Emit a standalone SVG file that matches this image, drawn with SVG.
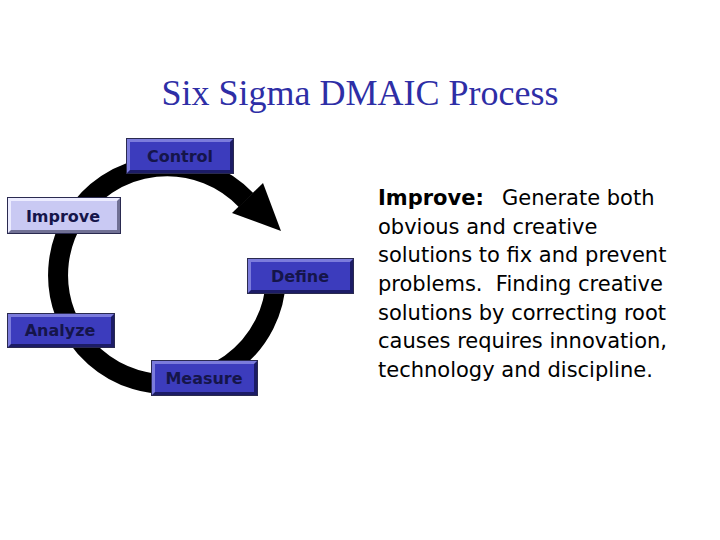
<svg xmlns="http://www.w3.org/2000/svg" width="720" height="540" viewBox="0 0 720 540">
  <style>
    .title { font-family: "Liberation Serif", "Times New Roman", serif; font-size: 36px; fill: #2e2ea6; }
    .lbl { font-family: "DejaVu Sans", Verdana, sans-serif; font-size: 16px; font-weight: bold; fill: #15154a; text-anchor: middle; }
    .body { font-family: "DejaVu Sans", Verdana, sans-serif; font-size: 21px; fill: #000; }
    .dark { fill: #1c1c66; }
    .light { fill: #7b7bdc; }
    .main { fill: #3c3cbd; }
    .edge { fill: none; stroke: #2a2a50; stroke-width: 1; }
    .ldark { fill: #707094; }
    .llight { fill: #ececff; }
    .lmain { fill: #c9c9f3; }
  </style>
  <rect width="720" height="540" fill="#ffffff"/>
  <text class="title" x="360" y="105" text-anchor="middle">Six Sigma DMAIC Process</text>

  <g id="connectors">
    <path d="M 276 279 A 109 109 0 1 1 246 200" fill="none" stroke="#000" stroke-width="20"/>
    <polygon points="263,183 232,213 281,231" fill="#000"/>
  </g>

  <g id="control" transform="translate(126,138)">
    <rect class="dark" x="0" y="0" width="108" height="36"/>
    <polygon class="light" points="0,0 108,0 104,4 4,4 4,32 0,36"/>
    <rect class="main" x="4" y="4" width="100" height="28"/>
    <rect class="edge" x="0.5" y="0.5" width="107" height="35"/>
    <text class="lbl" x="54" y="24">Control</text>
  </g>

  <g id="improve" transform="translate(7,197)">
    <rect class="ldark" x="0" y="0" width="114" height="37"/>
    <polygon class="llight" points="0,0 114,0 110,4 4,4 4,33 0,37"/>
    <rect class="lmain" x="4" y="4" width="106" height="29"/>
    <rect class="edge" x="0.5" y="0.5" width="113" height="36"/>
    <text class="lbl" x="56" y="25">Improve</text>
  </g>

  <g id="define" transform="translate(247,258)">
    <rect class="dark" x="0" y="0" width="107" height="36"/>
    <polygon class="light" points="0,0 107,0 103,4 4,4 4,32 0,36"/>
    <rect class="main" x="4" y="4" width="99" height="28"/>
    <rect class="edge" x="0.5" y="0.5" width="106" height="35"/>
    <text class="lbl" x="53" y="24">Define</text>
  </g>

  <g id="analyze" transform="translate(7,313)">
    <rect class="dark" x="0" y="0" width="108" height="35"/>
    <polygon class="light" points="0,0 108,0 104,4 4,4 4,31 0,35"/>
    <rect class="main" x="4" y="4" width="100" height="27"/>
    <rect class="edge" x="0.5" y="0.5" width="107" height="34"/>
    <text class="lbl" x="53" y="23">Analyze</text>
  </g>

  <g id="measure" transform="translate(151,360)">
    <rect class="dark" x="0" y="0" width="107" height="36"/>
    <polygon class="light" points="0,0 107,0 103,4 4,4 4,32 0,36"/>
    <rect class="main" x="4" y="4" width="99" height="28"/>
    <rect class="edge" x="0.5" y="0.5" width="106" height="35"/>
    <text class="lbl" x="53" y="24">Measure</text>
  </g>

  <g id="description">
    <text class="body" x="378" y="205"><tspan font-weight="bold">Improve:</tspan><tspan x="502">Generate both</tspan></text>
    <text class="body" x="378" y="234">obvious and creative</text>
    <text class="body" x="378" y="262">solutions to fix and prevent</text>
    <text class="body" x="378" y="291" xml:space="preserve">problems.  Finding creative</text>
    <text class="body" x="378" y="320">solutions by correcting root</text>
    <text class="body" x="378" y="348">causes requires innovation,</text>
    <text class="body" x="378" y="377">technology and discipline.</text>
  </g>
</svg>
